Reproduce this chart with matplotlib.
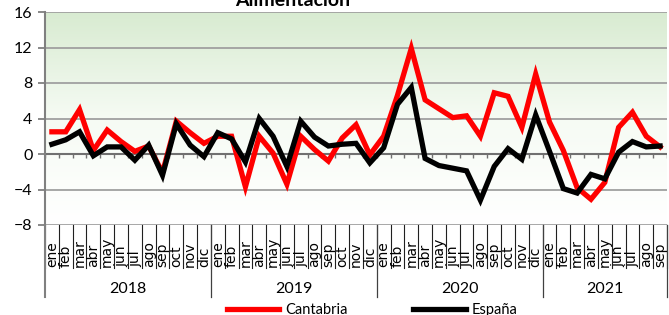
import numpy as np
import matplotlib.pyplot as plt
import matplotlib.transforms as mtransforms
from matplotlib.colors import LinearSegmentedColormap

plt.rcParams['font.family'] = ['Lato', 'DejaVu Sans']

meses = ['ene', 'feb', 'mar', 'abr', 'may', 'jun', 'jul', 'ago', 'sep', 'oct', 'nov', 'dic']
anios = ['2018', '2019', '2020', '2021']
meses_por_anio = [12, 12, 12, 9]

cantabria = [2.5, 2.5, 5.0, 0.4, 2.7, 1.4, 0.3, 0.9, -2.1, 3.7, 2.4, 1.2,
             2.0, 2.0, -3.7, 2.0, 0.1, -3.4, 2.0, 0.5, -0.8, 1.8, 3.3, -0.1,
             2.0, 6.6, 11.9, 6.1, 5.1, 4.1, 4.3, 2.0, 6.9, 6.5, 3.0, 9.0,
             3.6, 0.4, -3.8, -5.1, -3.2, 3.0, 4.7, 2.0, 0.8]
espana = [1.1, 1.6, 2.5, -0.2, 0.8, 0.8, -0.7, 1.0, -2.4, 3.4, 1.0, -0.3,
          2.4, 1.7, -0.9, 4.0, 2.0, -1.4, 3.7, 1.9, 0.9, 1.1, 1.2, -1.0,
          0.7, 5.6, 7.5, -0.5, -1.3, -1.6, -1.9, -5.2, -1.4, 0.6, -0.6, 4.4,
          0.3, -3.9, -4.4, -2.3, -2.8, 0.2, 1.4, 0.8, 0.9]

etiquetas = []
for n in meses_por_anio:
    etiquetas += meses[:n]
x = np.arange(len(etiquetas))

fig = plt.figure(figsize=(6.69, 3.15), dpi=100)
ax = fig.add_axes([45/669, 1-225/315, 622/669, 213/315])
ax.set_xlim(-0.5, len(x) - 0.5)
ax.set_ylim(-8, 16)

# fondo degradado verde -> blanco
cmap = LinearSegmentedColormap.from_list('g', ['#ffffff', '#f6fbf4', '#d8ebd1'])
grad = np.linspace(0, 1, 256).reshape(-1, 1)
ax.imshow(grad, cmap=cmap, aspect='auto', origin='lower',
          extent=[-0.5, len(x) - 0.5, -8, 16], zorder=0)

yt = np.arange(-8, 17, 4)
for v in yt:
    if v != 0:
        ax.axhline(v, color='#a0a0a0', lw=1.3, zorder=1)
ax.axhline(0, color='#707070', lw=1.5, zorder=2)
ax.vlines(np.arange(len(x) + 1) - 0.5, -0.45, 0, color='#707070', lw=1, zorder=2)

ax.plot(x, cantabria, color='#ff0000', lw=3.8, zorder=3, label='Cantabria', solid_joinstyle='miter')
ax.plot(x, espana, color='#000000', lw=3.8, zorder=4, label='España', solid_joinstyle='miter')

for s in ['top', 'right', 'bottom']:
    ax.spines[s].set_visible(False)
ax.spines['left'].set_color('#808080')
ax.spines['left'].set_linewidth(1.5)
ax.set_yticks(yt)
ax.tick_params(axis='y', length=5, width=1.3, color='#808080', labelsize=11.5, pad=4)
ax.set_xticks([])

# etiquetas de categorias (meses y años)
tr = mtransforms.blended_transform_factory(ax.transData, fig.transFigure)
y0 = 1 - 225/315
y_mes = 1 - 268/315
y_anio = 1 - 297/315
for i, lab in enumerate(etiquetas):
    fig.text(i, y_mes + 0.002, lab, transform=tr, rotation=90, ha='center', va='bottom',
             fontsize=10, family='DejaVu Sans')
bordes = np.arange(len(x) + 1) - 0.5
for b in bordes:
    fig.add_artist(plt.Line2D([b, b], [y0, y_mes], transform=tr, color='#202020', lw=0.8))
inicio = 0
for anio, n in zip(anios, meses_por_anio):
    fig.add_artist(plt.Line2D([inicio - 0.5, inicio - 0.5], [y0, y_anio], transform=tr,
                              color='#404040' if inicio else '#808080', lw=0.9 if inicio else 1.5))
    fig.text(inicio + (n - 1) / 2, 1 - 289/315, anio, transform=tr, ha='center', va='center',
             fontsize=11.5)
    inicio += n
fig.add_artist(plt.Line2D([inicio - 0.5, inicio - 0.5], [y0, y_anio], transform=tr,
                          color='#404040', lw=0.9))

fig.text(293/669, 1 - 6/315, 'Alimentación', ha='center', va='baseline',
         fontsize=14, fontweight='bold')

fig.legend(loc='center', bbox_to_anchor=(372/669, 1 - 310/315), ncol=2, frameon=False,
           fontsize=10.5, handlelength=3.6, columnspacing=4.5, handletextpad=0.4)

fig.savefig('out.png', dpi=100)
